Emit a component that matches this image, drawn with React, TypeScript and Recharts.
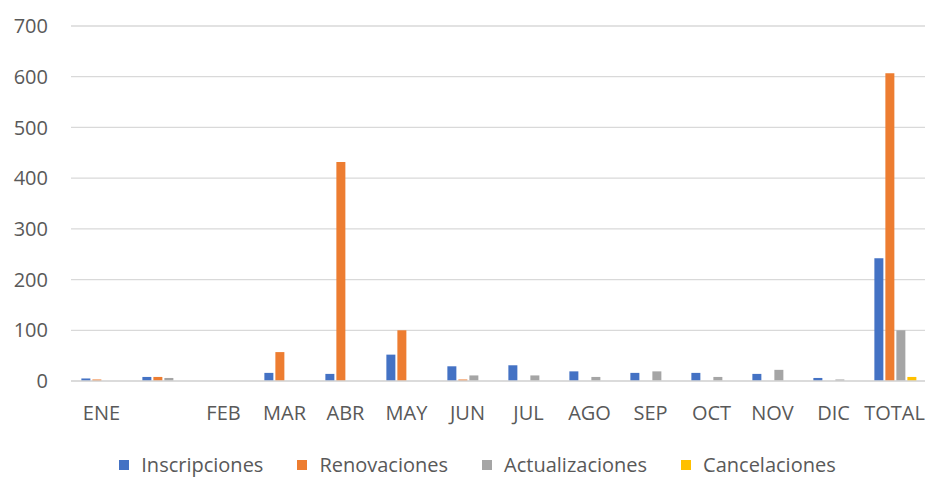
import { BarChart, Bar, XAxis, YAxis, CartesianGrid, Legend } from 'recharts';

const categories = ['ENE', '', 'FEB', 'MAR', 'ABR', 'MAY', 'JUN', 'JUL', 'AGO', 'SEP', 'OCT', 'NOV', 'DIC', 'TOTAL'];
const inscripciones = [5, 8, 0, 16, 14, 52, 29, 31, 19, 16, 16, 14, 6, 242];
const renovaciones = [3, 8, 0, 57, 432, 100, 3, 0, 0, 0, 0, 0, 0, 607];
const actualizaciones = [0, 6, 0, 0, 0, 0, 11, 11, 8, 19, 8, 22, 3, 100];
const cancelaciones = [0, 0, 0, 0, 0, 0, 0, 0, 0, 0, 0, 0, 0, 8];
const yTicks = [0, 100, 200, 300, 400, 500, 600, 700];

const series = [
  { key: 'Inscripciones', color: '#4472C4' },
  { key: 'Renovaciones', color: '#ED7D31' },
  { key: 'Actualizaciones', color: '#A5A5A5' },
  { key: 'Cancelaciones', color: '#FFC000' },
];

const data = categories.map((c, i) => ({
  mes: c,
  Inscripciones: inscripciones[i],
  Renovaciones: renovaciones[i],
  Actualizaciones: actualizaciones[i],
  Cancelaciones: cancelaciones[i],
}));

const FONT = '"Open Sans", sans-serif';
const TEXT = '#595959';

const LegendContent = () => (
  <div
    style={{
      height: 46,
      display: 'flex',
      alignItems: 'flex-end',
      justifyContent: 'center',
      paddingLeft: 30,
      fontFamily: FONT,
      fontSize: 20,
      color: TEXT,
      lineHeight: '24px',
    }}
  >
    {series.map(s => (
      <div key={s.key} style={{ display: 'flex', alignItems: 'center', margin: '0 17px' }}>
        <span style={{ width: 10, height: 10, background: s.color, marginRight: 12, display: 'inline-block' }} />
        <span>{s.key}</span>
      </div>
    ))}
  </div>
);

export default function App() {
  return (
    <div style={{ position: 'absolute', left: 0, top: 0, width: 930, height: 477, background: '#fff' }}>
      <BarChart
        width={930}
        height={477}
        data={data}
        margin={{ top: 26, right: 5, left: 0, bottom: 0 }}
        barCategoryGap="17%"
        barGap={2}
      >
        <CartesianGrid vertical={false} stroke="#D9D9D9" strokeWidth={1.3} />
        <XAxis
          dataKey="mes"
          height={50}
          axisLine={{ stroke: '#D9D9D9', strokeWidth: 1.5 }}
          tickLine={false}
          tickSize={0}
          tickMargin={25}
          interval={0}
          tick={{ fontSize: 20, fill: TEXT, fontFamily: FONT }}
        />
        <YAxis
          width={71}
          domain={[0, 700]}
          ticks={yTicks}
          axisLine={false}
          tickLine={false}
          tickSize={0}
          tickMargin={23}
          tick={{ fontSize: 20, fill: TEXT, fontFamily: FONT }}
        />
        <Legend verticalAlign="bottom" height={46} content={<LegendContent />} />
        {series.map(s => (
          <Bar key={s.key} dataKey={s.key} fill={s.color} isAnimationActive={false} />
        ))}
      </BarChart>
    </div>
  );
}
